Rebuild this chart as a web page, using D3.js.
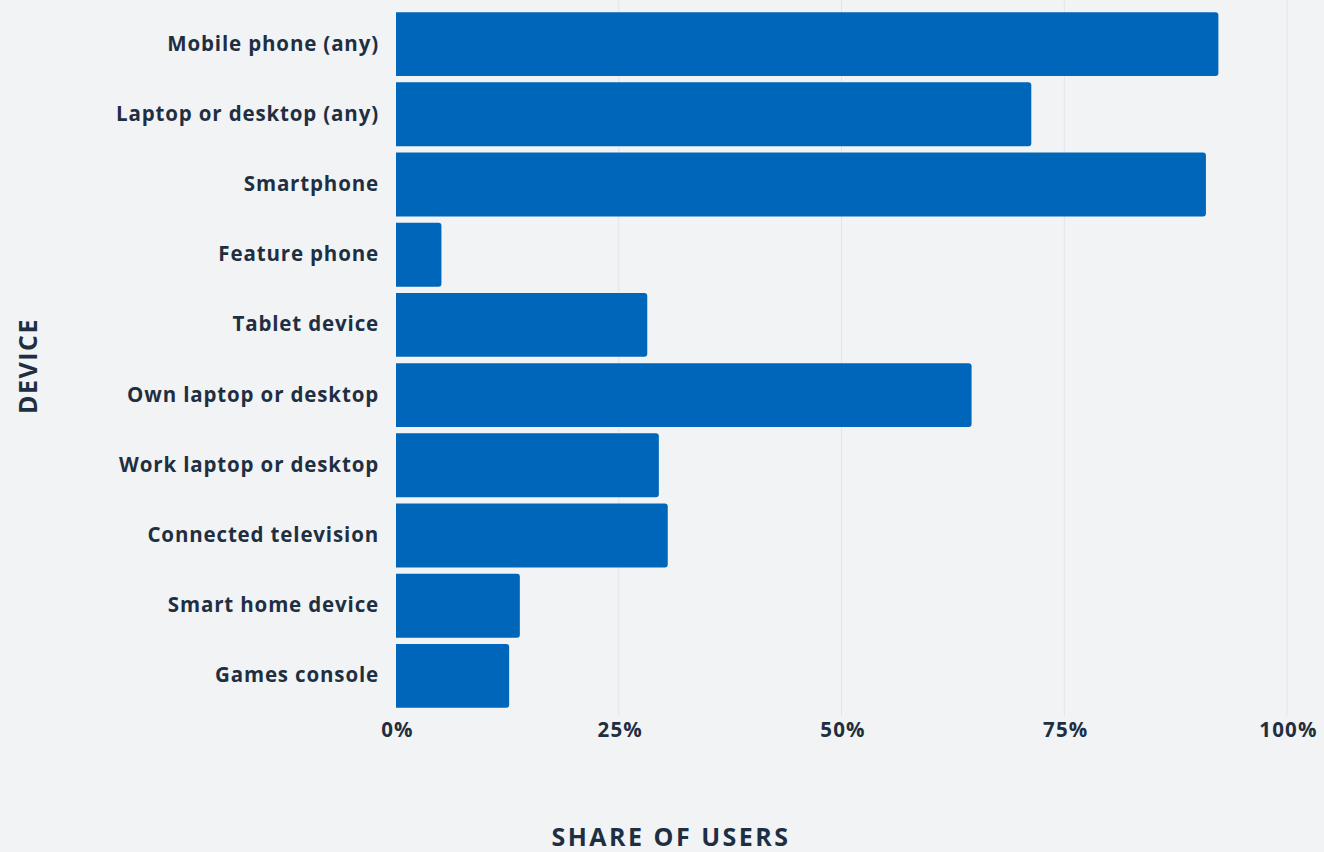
<!DOCTYPE html>
<html>
<head>
<meta charset="utf-8">
<script src="https://cdn.jsdelivr.net/npm/d3@7"></script>
<style>
  html, body { margin: 0; padding: 0; background: #f2f3f5; }
  svg { display: block; }
  svg text { font-family: "Open Sans", Inter, sans-serif; font-weight: 700; }
</style>
</head>
<body>
<svg id="chart" width="1324" height="852"></svg>
<script>
// data
const devices = ["Mobile phone (any)", "Laptop or desktop (any)", "Smartphone", "Feature phone",
  "Tablet device", "Own laptop or desktop", "Work laptop or desktop", "Connected television",
  "Smart home device", "Games console"];
const shares = [92.3, 71.3, 90.9, 5.1, 28.2, 64.6, 29.5, 30.5, 13.9, 12.7];
const tickValues = [0, 25, 50, 75, 100];

const svg = d3.select("#chart");
const textColor = "#1f2f42";

// scales
const x = d3.scaleLinear().domain([0, 100]).range([396, 1287]);
const y = d3.scaleBand().domain(devices).range([9, 711]).paddingInner(0.09).paddingOuter(0.045);

// grid lines
svg.append("g")
  .selectAll("line")
  .data(tickValues.filter(d => d > 0))
  .enter()
  .append("line")
  .attr("x1", d => x(d)).attr("x2", d => x(d))
  .attr("y1", 0).attr("y2", 716)
  .attr("stroke", "#e2e4e8")
  .attr("stroke-width", 1);

// bars, rounded at the right end only
svg.append("g")
  .selectAll("path")
  .data(devices)
  .enter()
  .append("path")
  .attr("fill", "#0066b9")
  .attr("d", function (d, i) {
    const x0 = x(0), x1 = x(shares[i]), y0 = y(d), h = y.bandwidth(), r = 3;
    return `M${x0},${y0}H${x1 - r}Q${x1},${y0} ${x1},${y0 + r}V${y0 + h - r}Q${x1},${y0 + h} ${x1 - r},${y0 + h}H${x0}Z`;
  });

// y axis labels
const yAxis = svg.append("g")
  .attr("transform", "translate(396,0)")
  .call(d3.axisLeft(y).tickSize(0).tickPadding(17));
yAxis.select(".domain").remove();
yAxis.selectAll("text")
  .style("font-size", "20.5px")
  .style("letter-spacing", "0.85px")
  .attr("fill", textColor);

// x axis labels
const xAxis = svg.append("g")
  .attr("transform", "translate(1,720)")
  .call(d3.axisBottom(x).tickValues(tickValues).tickFormat(d => d + "%").tickSize(0).tickPadding(2));
xAxis.select(".domain").remove();
xAxis.selectAll("text")
  .style("font-size", "20.5px")
  .style("letter-spacing", "1.2px")
  .attr("fill", textColor);

// axis titles
svg.append("text")
  .attr("transform", "translate(37,366) rotate(-90)")
  .attr("text-anchor", "middle")
  .style("font-size", "25px")
  .style("letter-spacing", "1.5px")
  .attr("fill", textColor)
  .text("DEVICE");

svg.append("text")
  .attr("x", 671)
  .attr("y", 846)
  .attr("text-anchor", "middle")
  .style("font-size", "25px")
  .style("letter-spacing", "2.5px")
  .attr("fill", textColor)
  .text("SHARE OF USERS");
</script>
</body>
</html>
